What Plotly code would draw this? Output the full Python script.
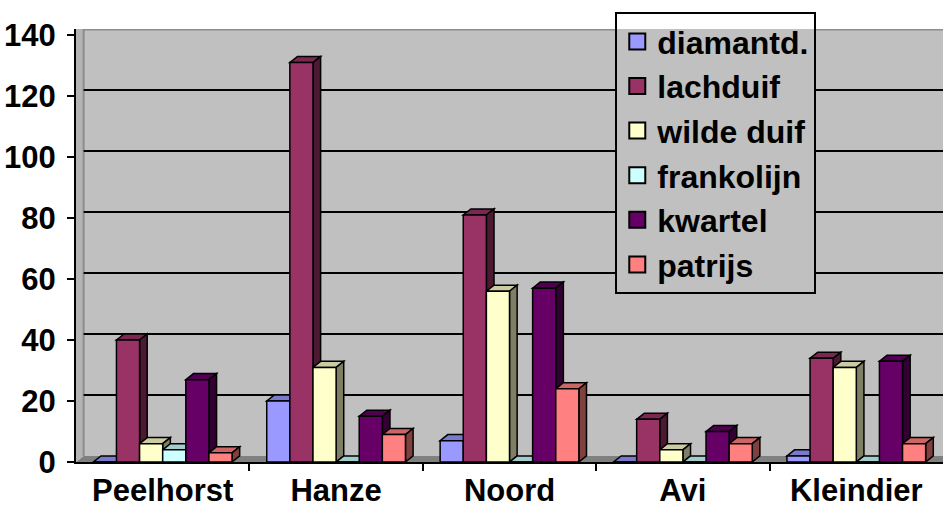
import plotly.graph_objects as go

categories = ["Peelhorst", "Hanze", "Noord", "Avi", "Kleindier"]
series_names = ["diamantd.", "lachduif", "wilde duif", "frankolijn", "kwartel", "patrijs"]
diamantd = [0, 20, 7, 0, 2]
lachduif = [40, 131, 81, 14, 34]
wilde_duif = [6, 31, 56, 4, 31]
frankolijn = [4, 0, 0, 0, 0]
kwartel = [27, 15, 57, 10, 33]
patrijs = [3, 9, 24, 6, 6]
y_ticks = [0, 20, 40, 60, 80, 100, 120, 140]

series_values = [diamantd, lachduif, wilde_duif, frankolijn, kwartel, patrijs]
front_colors = ["#9999FF", "#993366", "#FFFFCC", "#CCFFFF", "#660066", "#FF8080"]


def shade(hex_color, f):
    h = hex_color.lstrip("#")
    r, g, b = int(h[0:2], 16), int(h[2:4], 16), int(h[4:6], 16)
    return "#%02x%02x%02x" % (int(r * f), int(g * f), int(b * f))


FONT = dict(family="Liberation Sans, Arial, sans-serif", size=31, color="black", weight="bold")
LEG_FONT = dict(FONT, size=32)
BARGAP = 0.2
DX = 0.044   # depth offset in category units
DY = 2.0     # depth offset in value units
YMAX = 140 + DY
XMIN, XMAX = -0.5, 4.5

# legend box (fractions of the plot area)
LEG_X0, LEG_X1, LEG_Y0, LEG_Y = 0.622, 0.853, 0.385, 1.039

fig = go.Figure()
xs = list(range(len(categories)))
for name, vals, col in zip(series_names, series_values, front_colors):
    fig.add_trace(go.Bar(
        x=xs, y=vals, name=name, showlegend=False,
        marker=dict(color=col, line=dict(color="black", width=1.5)),
    ))
for name, col in zip(series_names, front_colors):
    fig.add_trace(go.Scatter(
        x=[None], y=[None], mode="markers", name=name, legendgroup=name,
        marker=dict(symbol="square", size=16, color=col, line=dict(color="black", width=2)),
    ))

shapes = []
# floor
shapes.append(dict(type="path", layer="between",
                   path=f"M {XMIN},0 L {XMAX},0 L {XMAX+DX},{DY} L {XMIN+DX},{DY} Z",
                   fillcolor="#808080", line=dict(width=0)))
# left wall strip
shapes.append(dict(type="path", layer="between",
                   path=f"M {XMIN},0 L {XMIN+DX},{DY} L {XMIN+DX},{YMAX} L {XMIN},{YMAX} Z",
                   fillcolor="#B4B4B4", line=dict(width=0)))
shapes.append(dict(type="line", layer="between", x0=XMIN + DX, x1=XMIN + DX, y0=DY, y1=YMAX,
                   line=dict(color="#8C8C8C", width=2)))
shapes.append(dict(type="line", layer="between", x0=XMIN + DX, x1=XMAX + 0.1, y0=YMAX, y1=YMAX,
                   line=dict(color="#8C8C8C", width=3)))
# back-wall gridlines
for t in y_ticks[1:-1]:
    shapes.append(dict(type="line", layer="between", x0=XMIN + DX, x1=XMAX + 0.1, y0=t + DY, y1=t + DY,
                       line=dict(color="black", width=2)))
# wall area behind the legend (hides gridlines)
span = XMAX - XMIN
shapes.append(dict(type="rect", layer="between",
                   x0=XMIN + LEG_X0 * span, x1=XMIN + LEG_X1 * span,
                   y0=LEG_Y0 * YMAX, y1=YMAX + 3,
                   fillcolor="#C0C0C0", line=dict(width=0)))

# depth faces of bars
n = len(series_values)
w = (1 - BARGAP) / n
for i in range(len(categories)):
    for j, (vals, col) in enumerate(zip(series_values, front_colors)):
        v = vals[i]
        xl = i - (1 - BARGAP) / 2 + j * w
        xr = xl + w
        top = f"M {xl},{v} L {xr},{v} L {xr+DX},{v+DY} L {xl+DX},{v+DY} Z"
        side = f"M {xr},0 L {xr+DX},{DY} L {xr+DX},{v+DY} L {xr},{v} Z"
        shapes.append(dict(type="path", layer="between", path=top,
                           fillcolor=shade(col, 0.8), line=dict(color="black", width=1.5)))
        shapes.append(dict(type="path", layer="between", path=side,
                           fillcolor=shade(col, 0.5), line=dict(color="black", width=1.5)))

fig.update_layout(
    width=943, height=509,
    margin=dict(l=76, r=0, t=29, b=47),
    paper_bgcolor="white",
    plot_bgcolor="#C0C0C0",
    barmode="group", bargap=BARGAP, bargroupgap=0,
    font=FONT,
    shapes=shapes,
    showlegend=True,
    legend=dict(x=LEG_X0, y=LEG_Y, xanchor="left", yanchor="top",
                bgcolor="rgba(0,0,0,0)", bordercolor="black", borderwidth=2,
                font=LEG_FONT, tracegroupgap=10, traceorder="normal", maxheight=450,
                itemsizing="trace"),
    xaxis=dict(range=[XMIN, XMAX], tickmode="array", tickvals=xs, ticktext=categories,
               ticks="", showgrid=False, zeroline=False,
               showline=True, linecolor="black", linewidth=2,
               minor=dict(tickmode="array", tickvals=[0.5, 1.5, 2.5, 3.5], ticks="outside",
                          ticklen=7, tickwidth=2, tickcolor="black", showgrid=False),
               tickfont=FONT, ticklabelstandoff=0),
    yaxis=dict(range=[0, YMAX], tickmode="array", tickvals=y_ticks,
               ticks="outside", ticklen=7, tickwidth=2, tickcolor="black",
               showgrid=False, zeroline=False,
               showline=True, linecolor="black", linewidth=2,
               tickfont=FONT, ticklabelstandoff=5),
)

fig.write_html("out.html", config={"displayModeBar": False},
               post_script="document.body.style.margin='0';")
